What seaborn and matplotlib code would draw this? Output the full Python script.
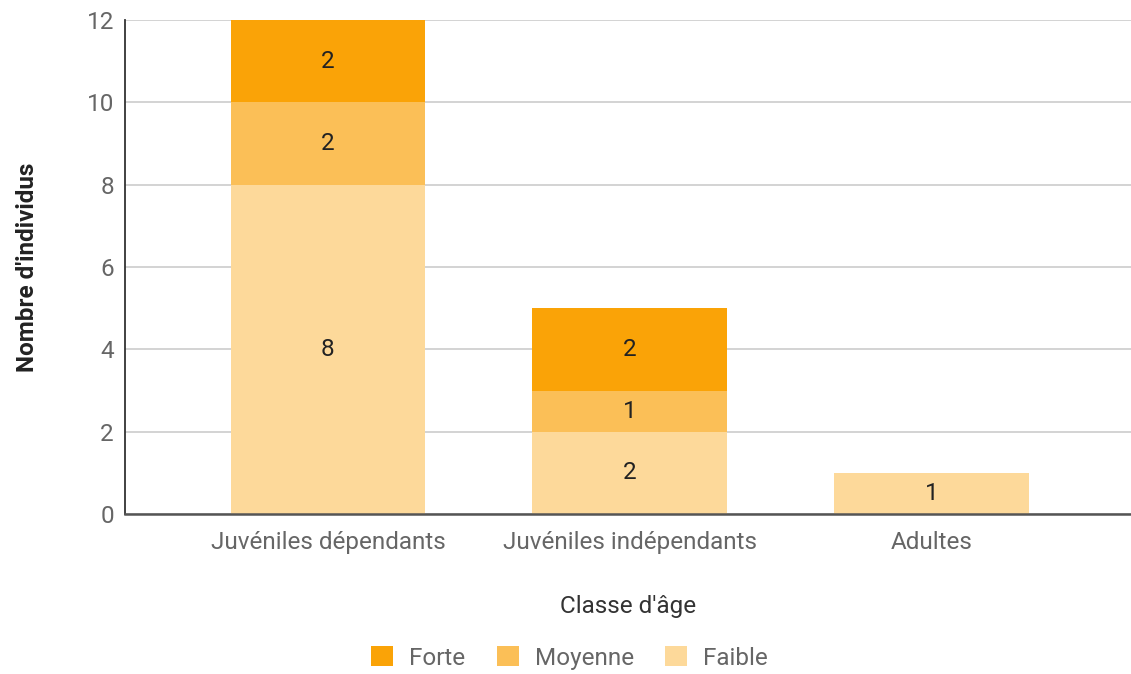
import matplotlib
matplotlib.use("Agg")
import matplotlib.pyplot as plt
from matplotlib.patches import Patch
import numpy as np
import pandas as pd
import seaborn as sns

categories = ["Juvéniles dépendants", "Juvéniles indépendants", "Adultes"]
faible = [8, 2, 1]
moyenne = [2, 1, 0]
forte = [2, 2, 0]
series_names = ["Forte", "Moyenne", "Faible"]
colors = {"Forte": "#FAA307", "Moyenne": "#FBBF57", "Faible": "#FDD99A"}
y_ticks = [0, 2, 4, 6, 8, 10, 12]

sns.set_theme(style="white")
plt.rcParams["font.family"] = ["Roboto", "DejaVu Sans"]

FS = 17.5

faible_a = np.array(faible)
moy_top = faible_a + np.array(moyenne)
forte_top = moy_top + np.array(forte)

fig = plt.figure(figsize=(11.31, 6.74), dpi=100)
ax = fig.add_axes([125 / 1131, 1 - 514 / 674, 1 - 125 / 1131, (514 - 20) / 674])

# Stacked bars drawn as cumulative layers, back to front
layers = [("Forte", forte_top), ("Moyenne", moy_top), ("Faible", faible_a)]
for name, tops in layers:
    df = pd.DataFrame({"classe": categories, "valeur": tops})
    sns.barplot(data=df, x="classe", y="valeur", color=colors[name],
                width=0.645, saturation=1, ax=ax, linewidth=0, zorder=2)

# Segment value labels
bottoms = {"Faible": np.zeros(3), "Moyenne": faible_a, "Forte": moy_top}
values = {"Faible": faible, "Moyenne": moyenne, "Forte": forte}
for name in series_names:
    for i, v in enumerate(values[name]):
        if v > 0:
            ax.text(i, bottoms[name][i] + v / 2, str(v), ha="center", va="center",
                    fontsize=FS, color="#222222", zorder=3)

ax.set_xlim(-0.672, 2.66)
ax.set_ylim(0, 12)
ax.set_yticks(y_ticks)
ax.yaxis.grid(True, color="#CCCCCC", linewidth=1.2, zorder=0)
ax.set_axisbelow(True)
for s in ["top", "right"]:
    ax.spines[s].set_visible(False)
ax.spines["left"].set_color("#333333")
ax.spines["left"].set_linewidth(1.3)
ax.spines["bottom"].set_color("#555555")
ax.spines["bottom"].set_linewidth(1.8)
ax.tick_params(axis="y", length=0, labelsize=FS, labelcolor="#666666", pad=8)
ax.tick_params(axis="x", length=0, labelsize=FS, labelcolor="#666666", pad=12)

ax.set_xlabel("Classe d'âge", fontsize=FS, color="#333333", labelpad=30)
ax.set_ylabel("Nombre d'individus", fontsize=FS, color="#222222",
              fontweight="bold", labelpad=34)

handles = [Patch(facecolor=colors[n], edgecolor="none", label=n) for n in series_names]
leg = fig.legend(handles=handles, loc="center", bbox_to_anchor=(0.5035, 0.024),
                 ncol=3, frameon=False, fontsize=FS, handlelength=0.9,
                 handleheight=0.9, columnspacing=1.3, handletextpad=0.66)
for t in leg.get_texts():
    t.set_color("#666666")

fig.savefig("out.png", dpi=100)
